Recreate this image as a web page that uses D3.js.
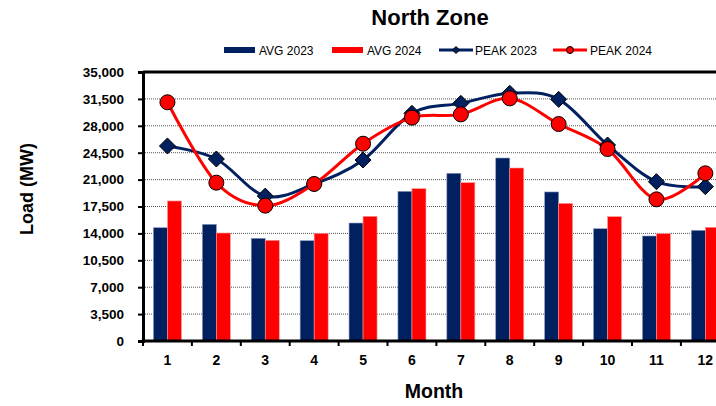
<!DOCTYPE html>
<html>
<head>
<meta charset="utf-8">
<script src="https://cdn.jsdelivr.net/npm/d3@7"></script>
<style>
  body { margin: 0; background: #fff; }
  text { font-family: Arial, "Liberation Sans", sans-serif; }
</style>
</head>
<body>
<svg id="chart"></svg>
<script>
var months   = [1, 2, 3, 4, 5, 6, 7, 8, 9, 10, 11, 12];
var avg2023  = [14740, 15180, 13360, 13050, 15350, 19470, 21820, 23810, 19390, 14610, 13660, 14400];
var avg2024  = [18220, 14050, 13100, 14010, 16220, 19820, 20600, 22510, 17910, 16180, 13960, 14790];
var peak2023 = [25370, 23680, 18850, 20430, 23550, 29620, 30920, 32230, 31440, 25500, 20730, 20080];
var peak2024 = [31060, 20600, 17610, 20430, 25670, 29060, 29490, 31570, 28230, 24980, 18430, 21820];
var yTicks   = [0, 3500, 7000, 10500, 14000, 17500, 21000, 24500, 28000, 31500, 35000];

var W = 716, H = 406;
var plotLeft = 143, plotTop = 72, plotBottom = 341;
var band = 48.9;

var svg = d3.select("#chart").attr("width", W).attr("height", H);

var x = d3.scaleBand().domain(months).range([plotLeft, plotLeft + band * 12]).padding(0);
var y = d3.scaleLinear().domain([0, 35000]).range([plotBottom, plotTop]);

var navy = "#002060", red = "#ff0000";
var barW = 14;

// gridlines
svg.append("g").selectAll("line")
  .data(yTicks.filter(function(d) { return d > 0 && d < 35000; }))
  .enter().append("line")
  .attr("x1", plotLeft).attr("x2", W)
  .attr("y1", function(d) { return y(d); })
  .attr("y2", function(d) { return y(d); })
  .attr("stroke", "#555")
  .attr("stroke-width", 1)
  .attr("stroke-dasharray", "1,1");

// top border
svg.append("line")
  .attr("x1", plotLeft).attr("x2", W)
  .attr("y1", plotTop).attr("y2", plotTop)
  .attr("stroke", "#000").attr("stroke-width", 3);

// bars
function bars(vals, color, off) {
  svg.append("g").selectAll("rect")
    .data(vals)
    .enter().append("rect")
    .attr("x", function(d, i) { return x(months[i]) + x.bandwidth() / 2 + off; })
    .attr("y", function(d) { return y(d); })
    .attr("width", barW)
    .attr("height", function(d) { return y(0) - y(d); })
    .attr("fill", color)
    .attr("stroke", color === navy ? "#8a9ac0" : "#ff9a9a")
    .attr("stroke-width", 0.6);
}
bars(avg2023, navy, -barW);
bars(avg2024, red, 0);

// axes
var yAxis = svg.append("g")
  .attr("transform", "translate(" + plotLeft + ",0)")
  .call(d3.axisLeft(y).tickValues(yTicks).tickSize(5).tickPadding(14)
    .tickFormat(d3.format(",")));
yAxis.select(".domain").attr("stroke-width", 3);
yAxis.selectAll(".tick line").attr("stroke-width", 2);
yAxis.selectAll("text").attr("font-size", 13.5).attr("font-weight", "bold")
  .attr("font-family", "Arial, 'Liberation Sans', sans-serif").attr("fill", "#000");

var xAxis = svg.append("g")
  .attr("transform", "translate(0," + plotBottom + ")")
  .call(d3.axisBottom(x).tickSize(0).tickPadding(14));
xAxis.select(".domain").remove();
xAxis.selectAll("text").attr("font-size", 14).attr("font-weight", "bold")
  .attr("font-family", "Arial, 'Liberation Sans', sans-serif").attr("fill", "#000");

svg.append("line")
  .attr("x1", plotLeft - 1.5).attr("x2", W)
  .attr("y1", plotBottom).attr("y2", plotBottom)
  .attr("stroke", "#000").attr("stroke-width", 3);
svg.append("g").selectAll("line")
  .data(d3.range(13))
  .enter().append("line")
  .attr("x1", function(i) { return plotLeft + band * i; })
  .attr("x2", function(i) { return plotLeft + band * i; })
  .attr("y1", plotBottom).attr("y2", plotBottom + 5)
  .attr("stroke", "#000").attr("stroke-width", 2);

// lines
var cx = function(d, i) { return x(months[i]) + x.bandwidth() / 2; };
var line = d3.line()
  .x(cx)
  .y(function(d) { return y(d); })
  .curve(d3.curveCardinal.tension(0));

svg.append("path").datum(peak2023)
  .attr("d", line).attr("fill", "none")
  .attr("stroke", navy).attr("stroke-width", 3);
svg.append("path").datum(peak2024)
  .attr("d", line).attr("fill", "none")
  .attr("stroke", red).attr("stroke-width", 3);

svg.append("g").selectAll("path")
  .data(peak2023)
  .enter().append("path")
  .attr("transform", function(d, i) { return "translate(" + cx(d, i) + "," + y(d) + ")"; })
  .attr("d", "M0,-8L8,0L0,8L-8,0Z")
  .attr("fill", navy).attr("stroke", "#000").attr("stroke-width", 1);

svg.append("g").selectAll("circle")
  .data(peak2024)
  .enter().append("circle")
  .attr("cx", cx)
  .attr("cy", function(d) { return y(d); })
  .attr("r", 7.5)
  .attr("fill", red).attr("stroke", "#000").attr("stroke-width", 1);

// title and labels
svg.append("text")
  .attr("x", 430).attr("y", 25)
  .attr("text-anchor", "middle")
  .attr("font-size", 22).attr("font-weight", "bold")
  .text("North Zone");

svg.append("text")
  .attr("transform", "translate(33,189) rotate(-90)")
  .attr("text-anchor", "middle")
  .attr("font-size", 18).attr("font-weight", "bold")
  .text("Load (MW)");

svg.append("text")
  .attr("x", 434).attr("y", 398)
  .attr("text-anchor", "middle")
  .attr("font-size", 19.5).attr("font-weight", "bold")
  .text("Month");

// legend
var lg = svg.append("g").attr("font-size", 12);
lg.append("rect").attr("x", 224).attr("y", 47).attr("width", 31).attr("height", 6).attr("fill", navy);
lg.append("text").attr("x", 259).attr("y", 54.5).text("AVG 2023");
lg.append("rect").attr("x", 332).attr("y", 47).attr("width", 31).attr("height", 6).attr("fill", red);
lg.append("text").attr("x", 367).attr("y", 54.5).text("AVG 2024");
lg.append("line").attr("x1", 439).attr("x2", 473).attr("y1", 50).attr("y2", 50)
  .attr("stroke", navy).attr("stroke-width", 3);
lg.append("path").attr("transform", "translate(456,50)").attr("d", "M0,-3.5L3.5,0L0,3.5L-3.5,0Z")
  .attr("fill", navy).attr("stroke", "#000").attr("stroke-width", 1);
lg.append("text").attr("x", 475).attr("y", 54.5).text("PEAK 2023");
lg.append("line").attr("x1", 553).attr("x2", 587).attr("y1", 50).attr("y2", 50)
  .attr("stroke", red).attr("stroke-width", 3);
lg.append("circle").attr("cx", 570).attr("cy", 50).attr("r", 3.5)
  .attr("fill", red).attr("stroke", "#000").attr("stroke-width", 1);
lg.append("text").attr("x", 590).attr("y", 54.5).text("PEAK 2024");
</script>
</body>
</html>
